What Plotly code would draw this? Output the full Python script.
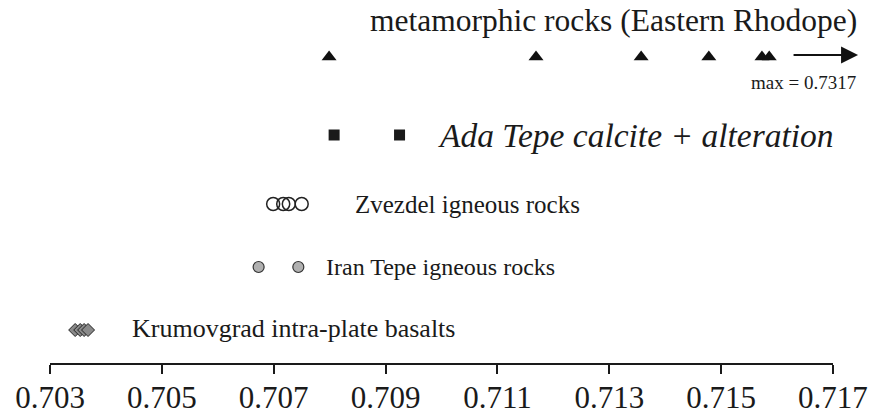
import plotly.graph_objects as go

# 87Sr/86Sr values
meta_vals = [0.70799, 0.71169, 0.71357, 0.71478, 0.71573, 0.71586]
ada_vals = [0.70808, 0.70925]
zvezdel_vals = [0.70699, 0.70717, 0.70727, 0.70750]
iran_vals = [0.70673, 0.70744]
krum_vals = [0.70345, 0.70354, 0.70361, 0.70368]

tick_vals = [0.703, 0.705, 0.707, 0.709, 0.711, 0.713, 0.715, 0.717]
tick_text = ["0.703", "0.705", "0.707", "0.709", "0.711", "0.713", "0.715", "0.717"]

FONT = "Liberation Serif, Times New Roman, serif"

# vertical row levels (hidden axis, bottom = 0)
ROW = dict(meta=306, ada=228, zv=159, iran=96, krum=33)

fig = go.Figure()

fig.add_trace(go.Scatter(
    x=meta_vals, y=[ROW['meta']] * len(meta_vals), mode='markers',
    marker=dict(symbol='triangle-up', size=13, color='#111'),
    showlegend=False, cliponaxis=False
))
fig.add_trace(go.Scatter(
    x=ada_vals, y=[ROW['ada']] * len(ada_vals), mode='markers',
    marker=dict(symbol='square', size=11, color='#1a1a1a'),
    showlegend=False, cliponaxis=False
))
fig.add_trace(go.Scatter(
    x=zvezdel_vals, y=[ROW['zv']] * len(zvezdel_vals), mode='markers',
    marker=dict(symbol='circle-open', size=13, color='#222', line=dict(width=1.5)),
    showlegend=False, cliponaxis=False
))
fig.add_trace(go.Scatter(
    x=iran_vals, y=[ROW['iran']] * len(iran_vals), mode='markers',
    marker=dict(symbol='circle', size=11, color='#b0b0b0', line=dict(color='#333', width=1.2)),
    showlegend=False, cliponaxis=False
))
fig.add_trace(go.Scatter(
    x=krum_vals, y=[ROW['krum']] * len(krum_vals), mode='markers',
    marker=dict(symbol='diamond', size=10, color='#8a8a8a', line=dict(color='#222', width=1)),
    showlegend=False, cliponaxis=False
))

labels = [
    ("metamorphic rocks (Eastern Rhodope)", 0.70868, 343, False, 31.5),
    ("Ada Tepe calcite + alteration", 0.70990, ROW['ada'], True, 33.5),
    ("Zvezdel igneous rocks", 0.70842, ROW['zv'], False, 25),
    ("Iran Tepe igneous rocks", 0.70790, ROW['iran'], False, 24),
    ("Krumovgrad intra-plate basalts", 0.70443, ROW['krum'] + 2, False, 26),
]
for txt, x, y, ital, fs in labels:
    fig.add_annotation(
        x=x, y=y, xref='x', yref='y', text=f"<i>{txt}</i>" if ital else txt,
        showarrow=False, xanchor='left', yanchor='middle',
        font=dict(family=FONT, size=fs, color='#1a1a1a')
    )

# arrow pointing to the off-scale maximum (sits right of the axis end)
fig.add_annotation(
    x=1.032, y=308, xref='paper', yref='y', ax=-66, ay=0,
    text='', showarrow=True, arrowhead=2, arrowsize=1.7, arrowwidth=2, arrowcolor='#111'
)
fig.add_annotation(
    x=1.032, y=281, xref='paper', yref='y', text='max = 0.7317',
    showarrow=False, xanchor='right', yanchor='middle',
    font=dict(family=FONT, size=19, color='#1a1a1a')
)

fig.update_layout(
    width=886, height=414,
    margin=dict(l=50, r=53, t=0, b=51),
    plot_bgcolor='white', paper_bgcolor='white',
    xaxis=dict(
        range=[0.703 - 1e-7, 0.717 + 1e-7], tickvals=tick_vals, ticktext=tick_text,
        showline=True, linecolor='#1a1a1a', linewidth=2,
        ticks='outside', ticklen=9, tickwidth=2, tickcolor='#1a1a1a',
        showgrid=False, zeroline=False, automargin=False, ticklabelstandoff=-3,
        tickfont=dict(family=FONT, size=31, color='#1a1a1a')
    ),
    yaxis=dict(range=[0, 363], visible=False, showgrid=False, zeroline=False)
)

fig.write_html("out.html", config={'displayModeBar': False},
               post_script="document.body.style.margin='0';")
